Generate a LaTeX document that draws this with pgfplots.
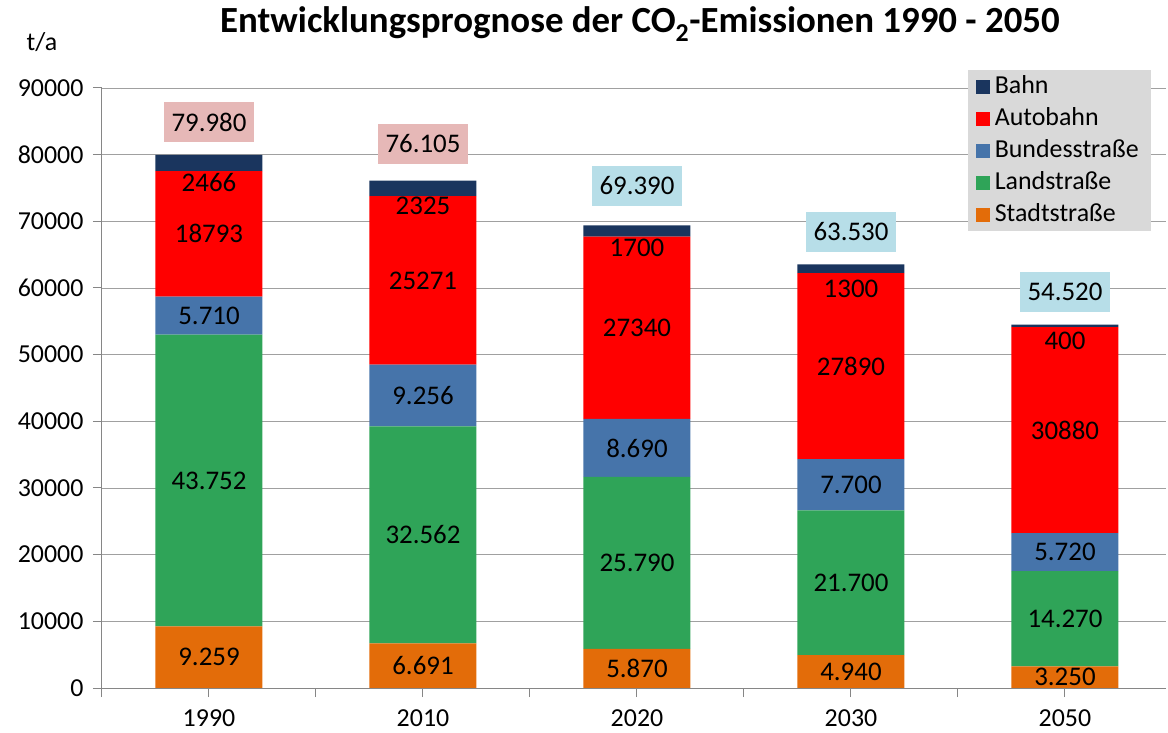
\documentclass[border=0pt]{standalone}
\usepackage{fontspec}
\setmainfont{Carlito}
\usepackage{pgfplots}
\pgfplotsset{compat=1.18}
\definecolor{cbahn}{HTML}{1A355E}
\definecolor{cauto}{HTML}{FF0000}
\definecolor{cbund}{HTML}{4674AA}
\definecolor{cland}{HTML}{2FA458}
\definecolor{cstadt}{HTML}{E36C09}
\definecolor{cpink}{HTML}{E6B8B7}
\definecolor{cblue}{HTML}{B7DEE8}
\definecolor{clegend}{HTML}{D9D9D9}
\definecolor{cgrid}{HTML}{A0A0A0}
\definecolor{caxis}{HTML}{868686}
\tikzset{lab/.style={font=\fontsize{27}{30}\selectfont, text=black},
  tot/.style={font=\fontsize{27}{30}\selectfont, text=black, inner xsep=7.5bp, minimum height=40bp}}
\begin{document}
\begin{tikzpicture}
\useasboundingbox (-102bp,-45bp) rectangle (1066bp,688bp);
\begin{axis}[
  at={(0,0)}, anchor=south west,
  scale only axis, width=1064bp, height=600bp,
  ybar stacked, bar width=107bp,
  xmin=-0.5, xmax=4.472, ymin=0, ymax=90000,
  axis x line*=bottom, axis y line*=left,
  axis line style={draw=caxis, line width=1bp, -},
  ytick={0,10000,...,90000}, scaled y ticks=false,
  ymajorgrids, grid style={draw=cgrid, line width=0.9bp},
  xtick={0,1,2,3,4}, xticklabels={1990,2010,2020,2030,2050},
  minor xtick={-0.5,0.5,1.5,2.5,3.5},
  tick align=outside, major tick length=9bp, minor tick length=9bp,
  tick style={draw=caxis, line width=1bp},
  yticklabel style={/pgf/number format/1000 sep={}, /pgf/number format/assume math mode=true, xshift=-6bp},
  tick label style={font=\fontsize{26}{30}\selectfont, text=black},
  xticklabel style={yshift=-11bp, inner ysep=1bp},
  reverse legend,
  legend cell align=left,
  legend image code/.code={\path[#1, draw=none] (0bp,-7bp) rectangle (14bp,7bp);},
  legend style={at={(0.814,1.03)}, anchor=north west, fill=clegend, draw=none,
    font=\fontsize{26}{30}\selectfont, row sep=5bp, inner xsep=8bp, inner ysep=3bp,
    nodes={inner ysep=1bp, inner xsep=4.5bp, text height=19bp, text depth=6bp}},
]
\addplot[fill=cstadt, draw=none] coordinates {(0,9259)(1,6691)(2,5870)(3,4940)(4,3250)};
\addplot[fill=cland, draw=none] coordinates {(0,43752)(1,32562)(2,25790)(3,21700)(4,14270)};
\addplot[fill=cbund, draw=none] coordinates {(0,5710)(1,9256)(2,8690)(3,7700)(4,5720)};
\addplot[fill=cauto, draw=none] coordinates {(0,18793)(1,25271)(2,27340)(3,27890)(4,30880)};
\addplot[fill=cbahn, draw=none] coordinates {(0,2466)(1,2325)(2,1700)(3,1300)(4,400)};
\legend{Stadtstraße,Landstraße,Bundesstraße,Autobahn,Bahn}
\coordinate (a1) at (axis cs:0,4629);
\coordinate (a2) at (axis cs:0,31135);
\coordinate (a3) at (axis cs:0,55866);
\coordinate (a4) at (axis cs:0,68117);
\coordinate (a5) at (axis cs:0,75750);
\coordinate (a6) at (axis cs:0,84900);
\coordinate (b1) at (axis cs:1,3345);
\coordinate (b2) at (axis cs:1,22972);
\coordinate (b3) at (axis cs:1,43881);
\coordinate (b4) at (axis cs:1,61144);
\coordinate (b5) at (axis cs:1,72300);
\coordinate (b6) at (axis cs:1,81600);
\coordinate (c1) at (axis cs:2,2935);
\coordinate (c2) at (axis cs:2,18765);
\coordinate (c3) at (axis cs:2,36005);
\coordinate (c4) at (axis cs:2,54020);
\coordinate (c5) at (axis cs:2,66000);
\coordinate (c6) at (axis cs:2,75300);
\coordinate (d1) at (axis cs:3,2470);
\coordinate (d2) at (axis cs:3,15790);
\coordinate (d3) at (axis cs:3,30490);
\coordinate (d4) at (axis cs:3,48285);
\coordinate (d5) at (axis cs:3,59850);
\coordinate (d6) at (axis cs:3,68400);
\coordinate (e1) at (axis cs:4,1625);
\coordinate (e2) at (axis cs:4,10385);
\coordinate (e3) at (axis cs:4,20380);
\coordinate (e4) at (axis cs:4,38680);
\coordinate (e5) at (axis cs:4,52050);
\coordinate (e6) at (axis cs:4,59400);
\end{axis}
\node[lab] at (a1) {9.259};
\node[lab] at (a2) {43.752};
\node[lab] at (a3) {5.710};
\node[lab] at (a4) {18793};
\node[lab] at (a5) {2466};
\node[tot, fill=cpink] at (a6) {79.980};
\node[lab] at (b1) {6.691};
\node[lab] at (b2) {32.562};
\node[lab] at (b3) {9.256};
\node[lab] at (b4) {25271};
\node[lab] at (b5) {2325};
\node[tot, fill=cpink] at (b6) {76.105};
\node[lab] at (c1) {5.870};
\node[lab] at (c2) {25.790};
\node[lab] at (c3) {8.690};
\node[lab] at (c4) {27340};
\node[lab] at (c5) {1700};
\node[tot, fill=cblue] at (c6) {69.390};
\node[lab] at (d1) {4.940};
\node[lab] at (d2) {21.700};
\node[lab] at (d3) {7.700};
\node[lab] at (d4) {27890};
\node[lab] at (d5) {1300};
\node[tot, fill=cblue] at (d6) {63.530};
\node[lab] at (e1) {3.250};
\node[lab] at (e2) {14.270};
\node[lab] at (e3) {5.720};
\node[lab] at (e4) {30880};
\node[lab] at (e5) {400};
\node[tot, fill=cblue] at (e6) {54.520};
\node[font=\fontsize{37}{40}\selectfont\bfseries] at (538bp,664bp) {Entwicklungsprognose der CO\textsubscript{2}-Emissionen 1990 - 2050};
\node[font=\fontsize{26}{30}\selectfont] at (-60bp,646bp) {t/a};
\end{tikzpicture}
\end{document}
